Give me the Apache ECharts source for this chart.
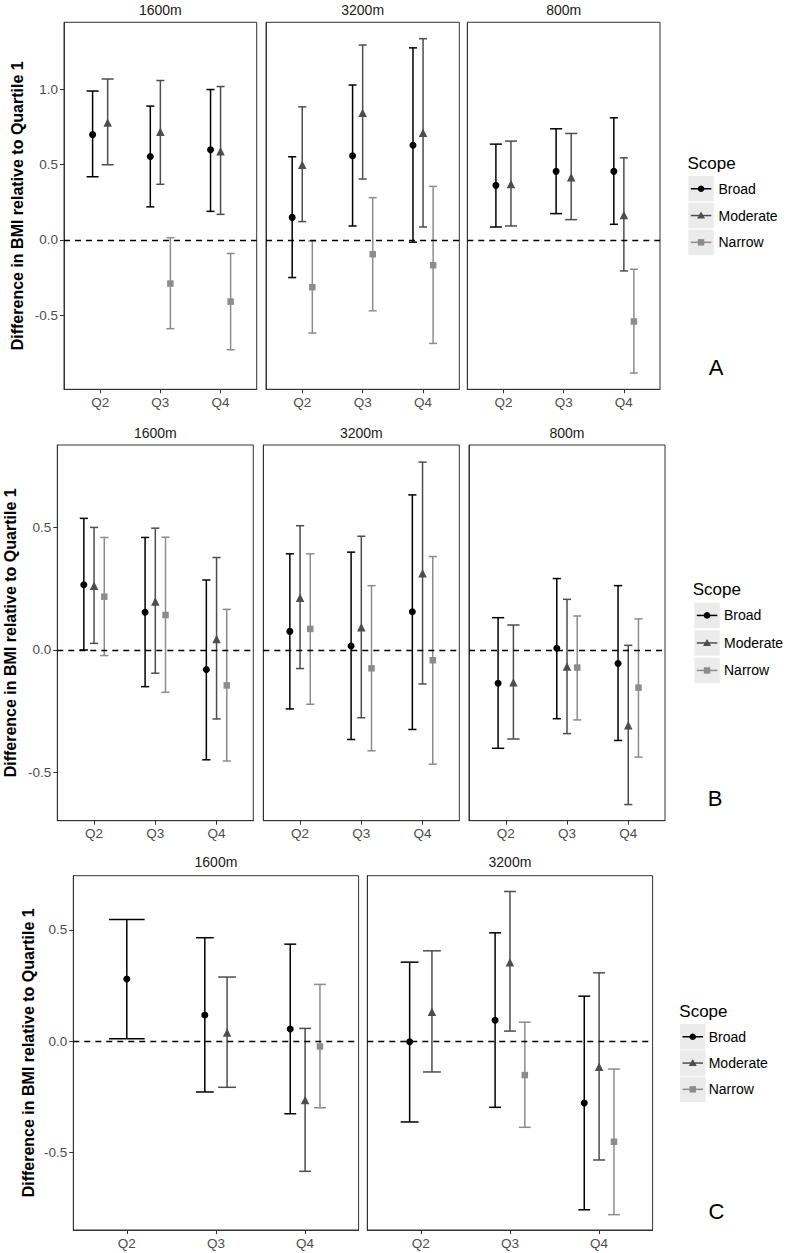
<!DOCTYPE html>
<html><head><meta charset="utf-8">
<script src="https://cdn.jsdelivr.net/npm/echarts@6/dist/echarts.min.js"></script>
<style>html,body{margin:0;padding:0;background:#fff}#c{width:787px;height:1253px}</style>
</head><body><div id="c"></div>
<script>
const categories = ['Q2', 'Q3', 'Q4'];
const scopes = ['Broad', 'Moderate', 'Narrow'];
const yTicks = [-0.5, 0, 0.5, 1.0];
const yTitle = 'Difference in BMI relative to Quartile 1';

// [estimate, lower, upper] per category (Q2, Q3, Q4); null = not estimated
const A1600_Broad    = [[0.70, 0.42, 0.99], [0.555, 0.22, 0.89], [0.60, 0.19, 1.00]];
const A1600_Moderate = [[0.78, 0.50, 1.07], [0.72, 0.37, 1.06], [0.59, 0.17, 1.02]];
const A1600_Narrow   = [null, [-0.29, -0.59, 0.015], [-0.41, -0.73, -0.09]];
const A3200_Broad    = [[0.15, -0.25, 0.553], [0.56, 0.093, 1.03], [0.63, -0.015, 1.277]];
const A3200_Moderate = [[0.50, 0.122, 0.885], [0.845, 0.405, 1.296], [0.712, 0.086, 1.338]];
const A3200_Narrow   = [[-0.314, -0.619, -0.007], [-0.095, -0.471, 0.281], [-0.168, -0.688, 0.356]];
const A800_Broad     = [[0.363, 0.086, 0.637], [0.456, 0.175, 0.739], [0.456, 0.104, 0.812]];
const A800_Moderate  = [[0.372, 0.093, 0.657], [0.416, 0.135, 0.708], [0.166, -0.206, 0.546]];
const A800_Narrow    = [null, null, [-0.542, -0.885, -0.195]];

const B1600_Broad    = [[0.267, 0.0, 0.538], [0.154, -0.15, 0.46], [-0.08, -0.449, 0.286]];
const B1600_Moderate = [[0.263, 0.027, 0.501], [0.198, -0.095, 0.498], [0.045, -0.282, 0.378]];
const B1600_Narrow   = [[0.218, -0.023, 0.46], [0.143, -0.173, 0.461], [-0.145, -0.454, 0.166]];
const B3200_Broad    = [[0.076, -0.241, 0.393], [0.016, -0.366, 0.40], [0.156, -0.325, 0.634]];
const B3200_Moderate = [[0.214, -0.076, 0.508], [0.093, -0.277, 0.465], [0.314, -0.139, 0.768]];
const B3200_Narrow   = [[0.086, -0.222, 0.393], [-0.075, -0.412, 0.263], [-0.042, -0.467, 0.382]];
const B800_Broad     = [[-0.136, -0.402, 0.132], [0.007, -0.281, 0.292], [-0.055, -0.37, 0.263]];
const B800_Moderate  = [[-0.132, -0.364, 0.102], [-0.068, -0.342, 0.207], [-0.308, -0.632, 0.019]];
const B800_Narrow    = [null, [-0.072, -0.286, 0.139], [-0.154, -0.438, 0.127]];

const C1600_Broad    = [[0.279, 0.010, 0.547], [0.117, -0.229, 0.465], [0.054, -0.327, 0.436]];
const C1600_Moderate = [null, [0.039, -0.208, 0.288], [-0.265, -0.586, 0.057]];
const C1600_Narrow   = [null, null, [-0.024, -0.30, 0.255]];
const C3200_Broad    = [[-0.003, -0.364, 0.355], [0.094, -0.298, 0.487], [-0.279, -0.759, 0.202]];
const C3200_Moderate = [[0.132, -0.139, 0.406], [0.355, 0.045, 0.673], [-0.115, -0.535, 0.307]];
const C3200_Narrow   = [null, [-0.153, -0.388, 0.085], [-0.453, -0.781, -0.126]];

// ---------- layout / style ----------
const FONT = '"Liberation Sans", Arial, Helvetica, sans-serif';
const colors = ['#000000', '#4d4d4d', '#8c8c8c'];
const symbols = ['circle', 'triangle', 'rect'];
const symSizes = [7, 8.5, 6.5];
const DODGE = 0.5, ERRW = 0.4;

const panels = [
  { letter: 'A', yRange: [-0.993, 1.447], top: 22.3, height: 367, stripY: 9.5, titleX: 17,
    legend: { titleX: 687.5, titleY: 163, keyX: 688.3, keyTop: 176, step: 26.8, labelX: 718.5 }, letterPos: [716, 367],
    facets: [
      { label: '1600m', left: 64, width: 192.7, data: [A1600_Broad, A1600_Moderate, A1600_Narrow] },
      { label: '3200m', left: 266, width: 193.3, data: [A3200_Broad, A3200_Moderate, A3200_Narrow] },
      { label: '800m', left: 467.3, width: 192.7, data: [A800_Broad, A800_Moderate, A800_Narrow] }
    ] },
  { letter: 'B', yRange: [-0.698, 0.838], top: 445, height: 375.7, stripY: 432.7, titleX: 10,
    legend: { titleX: 692.7, titleY: 589, keyX: 694.3, keyTop: 602.7, step: 27.5, labelX: 724 }, letterPos: [715, 798],
    facets: [
      { label: '1600m', left: 57.3, width: 196, data: [B1600_Broad, B1600_Moderate, B1600_Narrow] },
      { label: '3200m', left: 263.3, width: 196, data: [B3200_Broad, B3200_Moderate, B3200_Narrow] },
      { label: '800m', left: 469, width: 196, data: [B800_Broad, B800_Moderate, B800_Narrow] }
    ] },
  { letter: 'C', yRange: [-0.850, 0.744], top: 875.7, height: 354.3, stripY: 862.3, titleX: 28,
    legend: { titleX: 679.3, titleY: 1011, keyX: 680, keyTop: 1024, step: 26.3, labelX: 708.7 }, letterPos: [716.5, 1211.7],
    facets: [
      { label: '1600m', left: 73.3, width: 285.3, data: [C1600_Broad, C1600_Moderate, C1600_Narrow] },
      { label: '3200m', left: 367.3, width: 285.3, data: [C3200_Broad, C3200_Moderate, C3200_Narrow] }
    ] }
];

function makeRender(color) {
  return function (params, api) {
    const x = api.value(0), lo = api.value(1), hi = api.value(2), hw = api.value(3);
    const pLo = api.coord([x, lo]), pHi = api.coord([x, hi]);
    const l = api.coord([x - hw, hi])[0], r = api.coord([x + hw, hi])[0];
    const style = { stroke: color, lineWidth: 1.5, fill: null };
    return { type: 'group', children: [
      { type: 'line', shape: { x1: pLo[0], y1: pLo[1], x2: pHi[0], y2: pHi[1] }, style },
      { type: 'line', shape: { x1: l, y1: pHi[1], x2: r, y2: pHi[1] }, style },
      { type: 'line', shape: { x1: l, y1: pLo[1], x2: r, y2: pLo[1] }, style }
    ] };
  };
}

const grids = [], xAxes = [], yAxes = [], series = [], graphics = [];
let g = 0;
panels.forEach(p => {
  const ticks = yTicks.filter(v => v >= p.yRange[0] && v <= p.yRange[1]);
  p.facets.forEach((f, fi) => {
    grids.push({ left: f.left, top: p.top, width: f.width, height: p.height, show: true,
      borderColor: '#333333', borderWidth: 1, backgroundColor: '#ffffff' });
    xAxes.push({ type: 'value', gridIndex: g, min: 0.4, max: 3.6,
      axisLine: { show: true, onZero: false, lineStyle: { color: '#333333', width: 1 } },
      axisTick: { show: true, customValues: [1, 2, 3], length: 4, lineStyle: { color: '#333333', width: 1 } },
      axisLabel: { show: true, customValues: [1, 2, 3], formatter: v => categories[Math.round(v) - 1],
        color: '#4d4d4d', fontSize: 13.5, margin: 6, fontFamily: FONT },
      splitLine: { show: false } });
    yAxes.push({ type: 'value', gridIndex: g, min: p.yRange[0], max: p.yRange[1],
      axisLine: { show: true, onZero: false, lineStyle: { color: '#333333', width: 1 } },
      axisTick: { show: fi === 0, customValues: ticks, length: 4, lineStyle: { color: '#333333', width: 1 } },
      axisLabel: { show: fi === 0, customValues: ticks, formatter: v => v.toFixed(1),
        color: '#4d4d4d', fontSize: 13.5, margin: 6, fontFamily: FONT },
      splitLine: { show: false } });

    // facet strip label
    graphics.push({ type: 'text', x: f.left + f.width / 2, y: p.stripY, silent: true,
      style: { text: f.label, textAlign: 'center', textVerticalAlign: 'middle', fontSize: 14,
        fill: '#1a1a1a', fontFamily: FONT } });

    scopes.forEach((s, si) => {
      const errData = [], ptData = [];
      categories.forEach((c, ci) => {
        const row = f.data[si][ci];
        if (!row) return;
        const present = f.data.map(d => d[ci] != null);
        const n = present.filter(Boolean).length;
        const idx = present.slice(0, si).filter(Boolean).length;
        const x = ci + 1 + (idx - (n - 1) / 2) * DODGE / n;
        errData.push([x, row[1], row[2], ERRW / n / 2]);
        ptData.push([x, row[0]]);
      });
      series.push({ type: 'custom', name: s, xAxisIndex: g, yAxisIndex: g, data: errData,
        renderItem: makeRender(colors[si]), encode: { x: 0, y: [1, 2] }, z: 2, silent: true,
        itemStyle: { color: colors[si] } });
      const sc = { type: 'scatter', name: s, xAxisIndex: g, yAxisIndex: g, data: ptData,
        symbol: symbols[si], symbolSize: symSizes[si], itemStyle: { color: colors[si], opacity: 1 },
        z: 3, silent: true };
      if (si === 0) {
        sc.markLine = { silent: true, symbol: 'none', label: { show: false },
          lineStyle: { type: [6, 5], color: '#000000', width: 1.3 }, data: [{ yAxis: 0 }], z: 4 };
      }
      series.push(sc);
    });
    g++;
  });

  // y-axis title
  graphics.push({ type: 'text', x: p.titleX, y: p.top + p.height / 2, rotation: Math.PI / 2, silent: true,
    style: { text: yTitle, textAlign: 'center', textVerticalAlign: 'middle', fontSize: 16,
      fontWeight: 'bold', fill: '#000000', fontFamily: FONT } });

  // legend
  const L = p.legend;
  graphics.push({ type: 'text', x: L.titleX, y: L.titleY, silent: true,
    style: { text: 'Scope', textAlign: 'left', textVerticalAlign: 'middle', fontSize: 17,
      fill: '#000000', fontFamily: FONT } });
  scopes.forEach((s, si) => {
    const ky = L.keyTop + si * L.step, ks = 25.5, cx = L.keyX + ks / 2, cy = ky + ks / 2;
    graphics.push({ type: 'rect', silent: true, shape: { x: L.keyX, y: ky, width: ks, height: ks },
      style: { fill: '#ebebeb' } });
    graphics.push({ type: 'line', silent: true, shape: { x1: L.keyX + 2.5, y1: cy, x2: L.keyX + ks - 2.5, y2: cy },
      style: { stroke: colors[si], lineWidth: 1.5 } });
    if (si === 0) graphics.push({ type: 'circle', silent: true, shape: { cx, cy, r: 3.3 }, style: { fill: colors[si] } });
    if (si === 1) graphics.push({ type: 'polygon', silent: true,
      shape: { points: [[cx, cy - 4], [cx - 4, cy + 3], [cx + 4, cy + 3]] }, style: { fill: colors[si] } });
    if (si === 2) graphics.push({ type: 'rect', silent: true, shape: { x: cx - 3.2, y: cy - 3.2, width: 6.4, height: 6.4 },
      style: { fill: colors[si] } });
    graphics.push({ type: 'text', x: L.labelX, y: cy, silent: true,
      style: { text: s, textAlign: 'left', textVerticalAlign: 'middle', fontSize: 14,
        fill: '#000000', fontFamily: FONT } });
  });
  // panel letter
  graphics.push({ type: 'text', x: p.letterPos[0], y: p.letterPos[1], silent: true,
    style: { text: p.letter, textAlign: 'center', textVerticalAlign: 'middle', fontSize: 22,
      fill: '#000000', fontFamily: FONT } });
});

const chart = echarts.init(document.getElementById('c'), null, { renderer: 'svg', width: 787, height: 1253 });
chart.setOption({
  animation: false,
  backgroundColor: '#ffffff',
  textStyle: { fontFamily: FONT },
  grid: grids, xAxis: xAxes, yAxis: yAxes, series: series, graphic: graphics
});
</script></body></html>
